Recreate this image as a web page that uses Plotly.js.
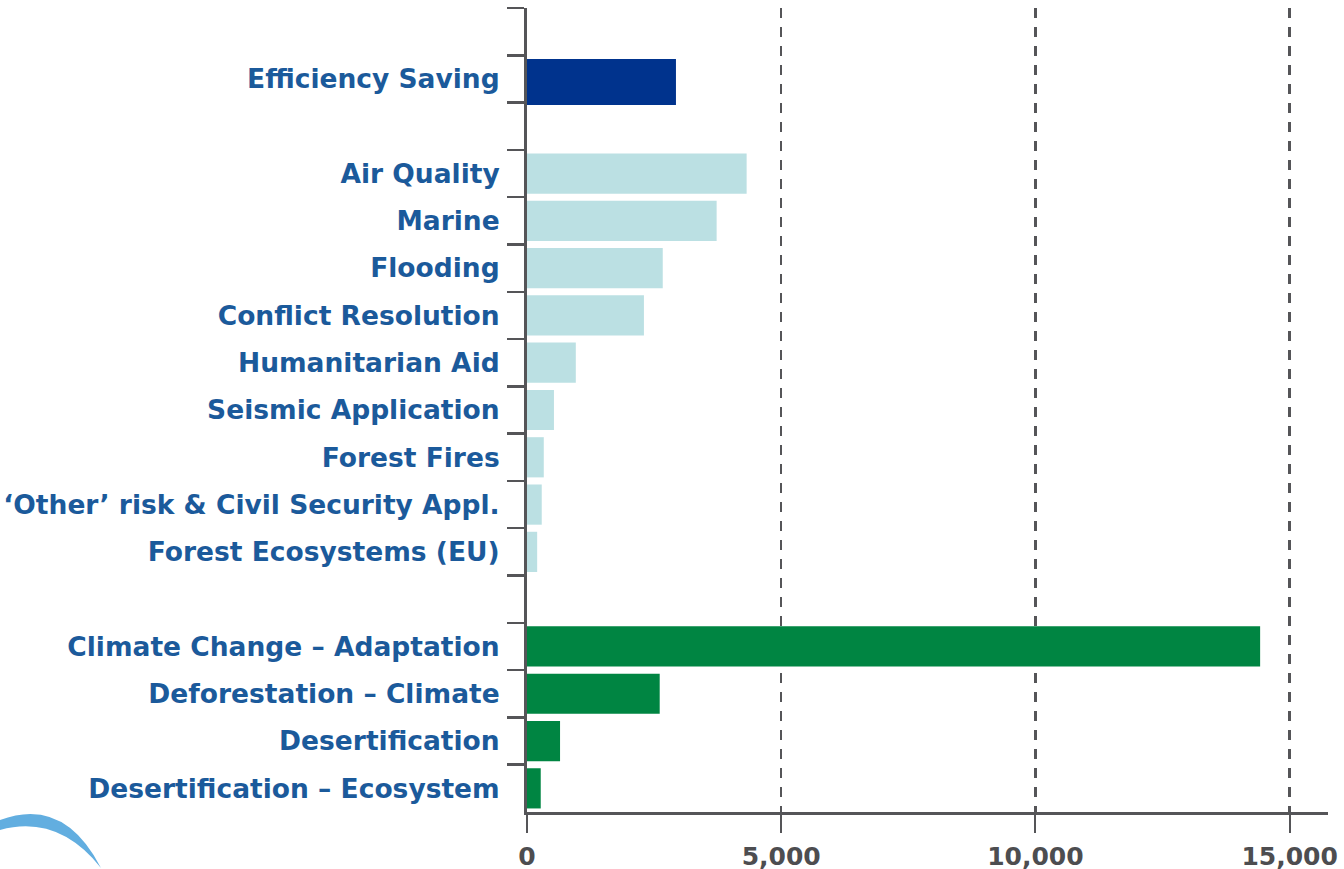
<!DOCTYPE html>
<html>
<head>
<meta charset="utf-8">
<script src="https://cdn.plot.ly/plotly-3.0.1.min.js"></script>
<style>html,body{margin:0;padding:0;background:#fff;}#chart{width:1344px;height:869px;}</style>
</head>
<body>
<div id="chart"></div>
<script>
// Data
var efficiencyCats = ["Efficiency Saving"];
var efficiencyVals = [2930];

var riskCats = ["Air Quality", "Marine", "Flooding", "Conflict Resolution", "Humanitarian Aid",
  "Seismic Application", "Forest Fires", "\u2018Other\u2019 risk & Civil Security Appl.", "Forest Ecosystems (EU)"];
var riskVals = [4320, 3730, 2670, 2300, 960, 530, 330, 290, 200];

var climateCats = ["Climate Change \u2013 Adaptation", "Deforestation \u2013 Climate", "Desertification", "Desertification \u2013 Ecosystem"];
var climateVals = [14420, 2610, 650, 270];

var xTickVals = [0, 5000, 10000, 15000];
var xTickText = ["0", "5,000", "10,000", "15,000"];

// category order, top to bottom, with blank spacer rows between groups
var gapA = "\u200b", gapB = "\u200b\u200b", gapC = "\u200b\u200b\u200b";
var order = [gapA].concat(efficiencyCats, [gapB], riskCats, [gapC], climateCats);

var axisColor = "#555558";
var labelColor = "#1b5a9b";

var traces = [
  {type: "bar", orientation: "h", y: [gapA, gapB, gapC], x: [null, null, null],
   marker: {color: "rgba(0,0,0,0)"}, hoverinfo: "skip"},
  {type: "bar", orientation: "h", y: efficiencyCats, x: efficiencyVals, width: 0.97, offset: -0.42,
   marker: {color: "#00338d"}, hoverinfo: "x+y"},
  {type: "bar", orientation: "h", y: riskCats, x: riskVals, width: 0.85,
   marker: {color: "#bbe0e3"}, hoverinfo: "x+y"},
  {type: "bar", orientation: "h", y: climateCats, x: climateVals, width: 0.85,
   marker: {color: "#008542"}, hoverinfo: "x+y"}
];

function px2paperX(p) { return (p - 527) / 801; }
function px2paperY(p) { return (812 - p) / 804; }
var arc = "M " + px2paperX(0) + "," + px2paperY(820) +
  " Q " + px2paperX(64) + "," + px2paperY(796) + " " + px2paperX(101) + "," + px2paperY(868) +
  " Q " + px2paperX(58) + "," + px2paperY(814) + " " + px2paperX(0) + "," + px2paperY(830) + " Z";

var layout = {
  width: 1344, height: 869,
  margin: {l: 527, r: 16, t: 8, b: 57, pad: 0},
  paper_bgcolor: "#ffffff", plot_bgcolor: "#ffffff",
  showlegend: false,
  barmode: "overlay",
  font: {family: "DejaVu Sans, Verdana, sans-serif"},
  xaxis: {
    range: [0, 15755],
    tickmode: "array", tickvals: xTickVals, ticktext: xTickText,
    showgrid: true, gridcolor: axisColor, gridwidth: 2.5, griddash: "10px,9px",
    zeroline: false,
    showline: true, linecolor: axisColor, linewidth: 2.5,
    ticks: "outside", ticklen: 18, tickwidth: 2, tickcolor: axisColor,
    ticklabelstandoff: 2,
    tickfont: {family: "DejaVu Sans, Verdana, sans-serif", size: 25, color: "#4d4d50", weight: "bold"},
    fixedrange: true
  },
  yaxis: {
    type: "category",
    categoryorder: "array", categoryarray: order,
    autorange: "reversed",
    tickson: "boundaries",
    ticks: "outside", ticklen: 17, tickwidth: 2.5, tickcolor: axisColor,
    showline: true, linecolor: axisColor, linewidth: 3,
    showgrid: false, zeroline: false,
    ticklabelstandoff: 19,
    tickfont: {family: "DejaVu Sans, Verdana, sans-serif", size: 26.5, color: labelColor, weight: "bold"},
    fixedrange: true
  },
  shapes: [
    {type: "path", xref: "paper", yref: "paper", path: arc,
     fillcolor: "#62aee0", line: {width: 0}, layer: "above"}
  ]
};

Plotly.newPlot("chart", traces, layout, {displayModeBar: false, staticPlot: true});
</script>
</body>
</html>
